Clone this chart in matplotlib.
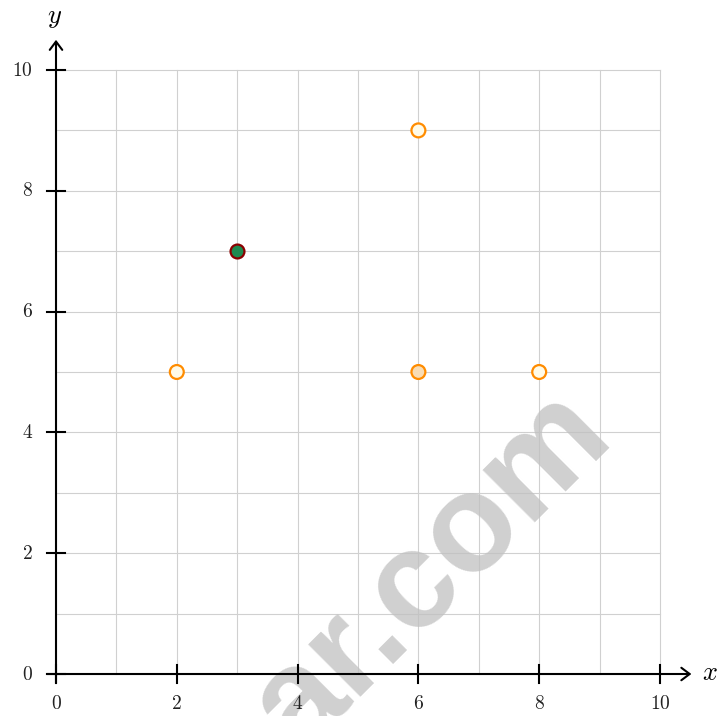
import numpy as np
from matplotlib import pyplot as plt
from matplotlib.patches import FancyArrowPatch

# points
open_x = [2, 6, 8, 6]
open_y = [5, 5, 5, 9]
open_fill = ['#fffbe8', '#f8dcb4', '#fffbe8', '#fffbe8']
solid_x = [3]
solid_y = [7]

tick_vals = [0, 2, 4, 6, 8, 10]
grid_vals = np.arange(0, 11)

plt.rcParams['mathtext.fontset'] = 'cm'

fig = plt.figure(figsize=(7.19, 7.16), dpi=100)
ax = fig.add_axes([0, 0, 1, 1])
ax.set_xlim(-56 / 60.4, 663 / 60.4)
ax.set_ylim(-42 / 60.4, 674 / 60.4)
ax.axis('off')

# grid
for g in grid_vals:
    ax.plot([g, g], [0, 10], color='#d0d0d0', lw=0.8, zorder=1)
    ax.plot([0, 10], [g, g], color='#d0d0d0', lw=0.8, zorder=1)

# axes with arrows
for start, end in [((-0.15, 0), (10.52, 0)), ((0, -0.15), (0, 10.5))]:
    ax.add_patch(FancyArrowPatch(start, end, arrowstyle='->,head_length=6,head_width=4.5',
                                 color='black', lw=1.5, zorder=3, shrinkA=0, shrinkB=0))

# ticks and labels
for t in tick_vals:
    ax.plot([t, t], [-0.15, 0.15], color='black', lw=1.5, zorder=3)
    ax.plot([-0.15, 0.15], [t, t], color='black', lw=1.5, zorder=3)
    ax.text(t, -0.49, '$%d$' % t, ha='center', va='center', fontsize=14, color='#222222', zorder=4)
    ax.text(-0.38, t, '$%d$' % t, ha='right', va='center', fontsize=14, color='#222222', zorder=4)

ax.text(10.83, 0.01, '$x$', ha='center', va='center', fontsize=19, zorder=4)
ax.text(-0.02, 10.88, '$y$', ha='center', va='center', fontsize=19, zorder=4)

# markers
ax.scatter(open_x, open_y, s=100, c=open_fill, edgecolors='#ff8c00', linewidths=1.6, zorder=5)
ax.scatter(solid_x, solid_y, s=100, c='#1e8a50', edgecolors='#8b0000', linewidths=1.6, zorder=5)

# watermark
ax.text(0.4155, -0.053, 'ar.com', transform=fig.transFigure, rotation=45, rotation_mode='anchor',
        ha='left', va='baseline', fontsize=100, fontweight='bold', family='Liberation Sans',
        color='#c0c0c0', alpha=0.75, zorder=2, clip_on=False)

plt.savefig('out.png', dpi=100)
